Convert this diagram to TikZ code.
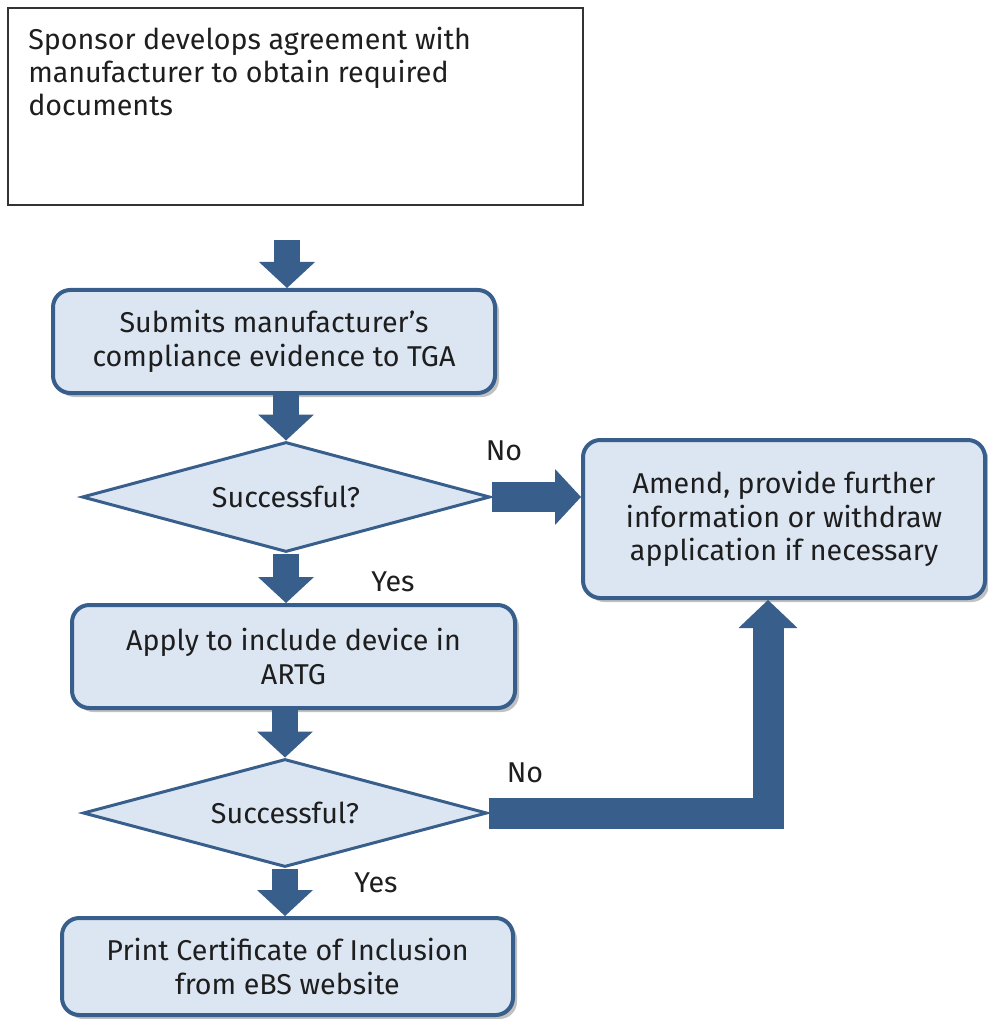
\documentclass[tikz,border=0pt]{standalone}
\usepackage{fontspec}
\setmainfont{Fira Sans}
\usetikzlibrary{shapes.geometric,shadows,calc}
\definecolor{bblue}{RGB}{56,94,140}
\definecolor{bfill}{RGB}{220,230,242}
\definecolor{tcol}{RGB}{30,30,30}
\newcommand\fatdown[3]{% #1 start, #2 tip, #3 shaft width (px)
  \draw[shaft, line width=#3*0.75pt] (#1) -- ($(#2)+(0,-24)$);
  \fill[head] (#2) -- ++(-28,-26) -- ++(56,0) -- cycle;}
\begin{document}
\begin{tikzpicture}[x=0.75pt,y=-0.75pt,
  every node/.style={font=\fontsize{21.5pt}{25pt}\selectfont, text=tcol},
  procbox/.style={draw=bblue, fill=bfill, line width=3pt, rounded corners=13pt,
    align=center, inner sep=0pt,
    drop shadow={shadow xshift=3pt, shadow yshift=-3pt, opacity=0.35, fill=black!70}},
  decision/.style={diamond, draw=bblue, fill=bfill, line width=2.25pt, inner sep=0pt, aspect=3.7},
  plainbox/.style={draw=black!80, line width=1.1pt, inner sep=0pt},
  shaft/.style={draw=bblue},
  head/.style={fill=bblue},
  lbl/.style={inner sep=0pt}
]
\useasboundingbox (0,0) rectangle (987,1019);

% top box
\node[plainbox, minimum width=431.25pt, minimum height=147.75pt] (top) at (295.5,106.5) {};
\node[anchor=north west, align=left, inner sep=0pt] (toptxt) at (28,26.5)
  {Sponsor develops agreement with\\manufacturer to obtain required\\documents};

% process boxes
\node[procbox, minimum width=331.5pt, minimum height=77.25pt] (box2) at (274,341.5)
  {Submits manufacturer’s\\compliance evidence to TGA};
\node[procbox, minimum width=301.5pt, minimum height=118.5pt] (amend) at (784,519)
  {Amend, provide further\\information or withdraw\\application if necessary};
\node[procbox, minimum width=332.25pt, minimum height=77.25pt] (box3) at (293.5,656.5)
  {Apply to include device in\\ARTG};
\node[procbox, minimum width=338.25pt, minimum height=72.75pt] (box4) at (287.5,966.5)
  {Print Certificate of Inclusion\\from eBS website};

% decisions
\node[decision, minimum width=306pt, minimum height=82.5pt] (d1) at (286,497) {Successful?};
\node[decision, minimum width=303pt, minimum height=81pt] (d2) at (285,813) {Successful?};

% labels
\node[lbl] (no1) at (504,451) {No};
\node[lbl] (yes1) at (393,582) {Yes};
\node[lbl] (no2) at (525,773) {No};
\node[lbl] (yes2) at (376,883) {Yes};

% arrows
\coordinate (a0) at (287,240);
\fatdown{a0}{a0 |- box2.north}{26}
\fatdown{box2.south -| d1.north}{d1.north}{26}
\fatdown{d1.south}{d1.south |- box3.north}{26}
\fatdown{box3.south -| d2.north}{d2.north}{26}
\fatdown{d2.south}{d2.south |- box4.north}{26}

% No arrow 1 (horizontal)
\coordinate (t1) at (d1.east -| amend.west);
\draw[shaft, line width=22.5pt] (d1.east) -- ($(t1)+(-24,0)$);
\fill[head] (t1) -- ++(-26,-28) -- ++(0,56) -- cycle;

% No arrow 2 (L-shaped)
\coordinate (corner) at (768,813);
\coordinate (t2) at (corner |- amend.south);
\draw[shaft, line width=23.25pt, miter limit=10] (d2.east) -- (corner) -- ($(t2)+(0,26)$);
\fill[head] (t2) -- ++(-29.5,28) -- ++(59,0) -- cycle;
\end{tikzpicture}
\end{document}
